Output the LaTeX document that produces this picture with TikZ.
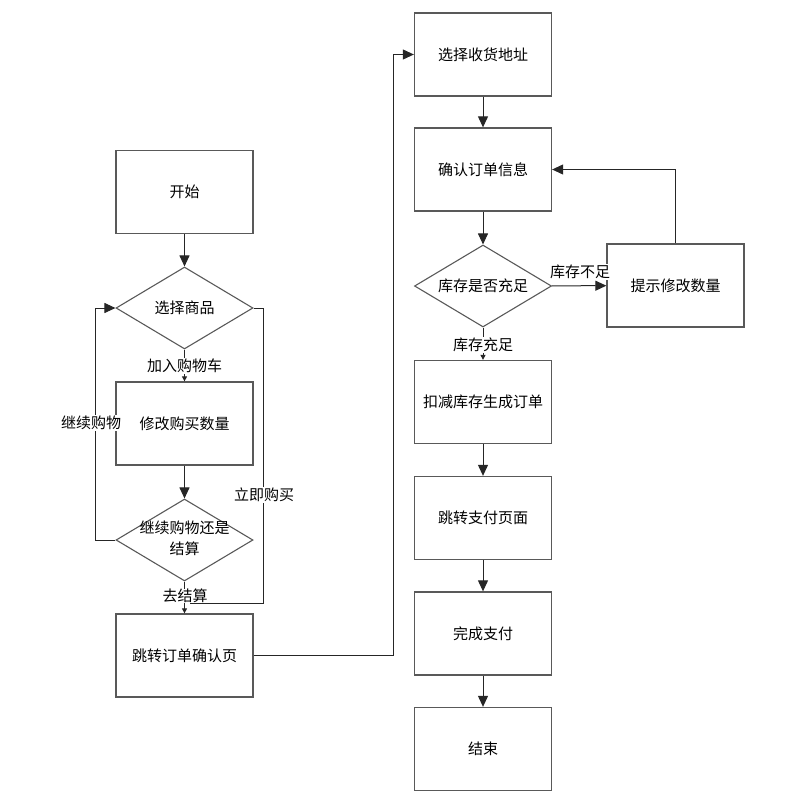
\documentclass[tikz,border=0pt]{standalone}
\usepackage{fontspec}
\newfontfamily\cjk{Noto Sans CJK SC}
\usetikzlibrary{arrows.meta,shapes.geometric}
\begin{document}
\begin{tikzpicture}[x=1pt,y=-1pt,
  every node/.style={font=\cjk\fontsize{15}{19}\selectfont},
  box/.style={draw=black!65,line width=1.3pt,minimum width=137pt,minimum height=83pt,inner sep=0pt},
  dia/.style={draw=black!65,line width=1.1pt,diamond,minimum width=137pt,minimum height=82pt,inner sep=0pt,aspect=1.67},
  conn/.style={line width=1pt,draw=black!85},
  big/.style={conn,-{Triangle[length=11pt,width=10pt]}},
  small/.style={conn,-{Triangle[length=5pt,width=5pt]}},
  lab/.style={fill=white,inner sep=1pt}]
\useasboundingbox (0,0) rectangle (794,795);
% left column
\node[box] (start) at (184.5,192) {开始};
\node[dia] (sel) at (184.5,308) {};
\node at (sel) {选择商品};
\node[box] (mod) at (184.5,423.5) {修改购买数量};
\node[dia] (cont) at (184.5,540) {};
\node[align=center,font=\cjk\fontsize{15}{21}\selectfont] at (184.5,538) {继续购物还是\\结算};
\node[box] (jump) at (184.5,655.5) {跳转订单确认页};
% right column
\node[box] (addr) at (483,54.5) {选择收货地址};
\node[box] (conf) at (483,169.5) {确认订单信息};
\node[dia] (stock) at (483,286) {};
\node at (stock) {库存是否充足};
\node[box] (tip) at (675.5,285.5) {提示修改数量};
\node[box] (deduct) at (483,402) {扣减库存生成订单};
\node[box] (pay) at (483,518) {跳转支付页面};
\node[box] (done) at (483,633.5) {完成支付};
\node[box] (end) at (483,749) {结束};
% connectors left
\draw[big] (start) -- (sel);
\draw[small] (sel) -- (mod);
\node[lab] at (184.5,366) {加入购物车};
\draw[big] (mod) -- (cont);
\draw[big] (cont.west) -- (95,540) |- (sel.west);
\node[lab] at (91,423) {继续购物};
\draw[conn] (sel.east) -- (263,308) -- (263,603) -- (190,603);
\node[lab] at (264,495) {立即购买};
\draw[small] (cont) -- (jump);
\node[lab,inner sep=0.5pt] at (185,596) {去结算};
\draw[big] (jump.east) -- (393,655.5) |- (addr.west);
% connectors right
\draw[big] (addr) -- (conf);
\draw[big] (conf) -- (stock);
\draw[big] (stock) -- (tip);
\node[lab] at (580,272) {库存不足};
\draw[big] (tip.north) |- (conf.east);
\draw[small] (stock) -- (deduct);
\node[lab] at (483,345) {库存充足};
\draw[big] (deduct) -- (pay);
\draw[big] (pay) -- (done);
\draw[big] (done) -- (end);
\end{tikzpicture}
\end{document}
